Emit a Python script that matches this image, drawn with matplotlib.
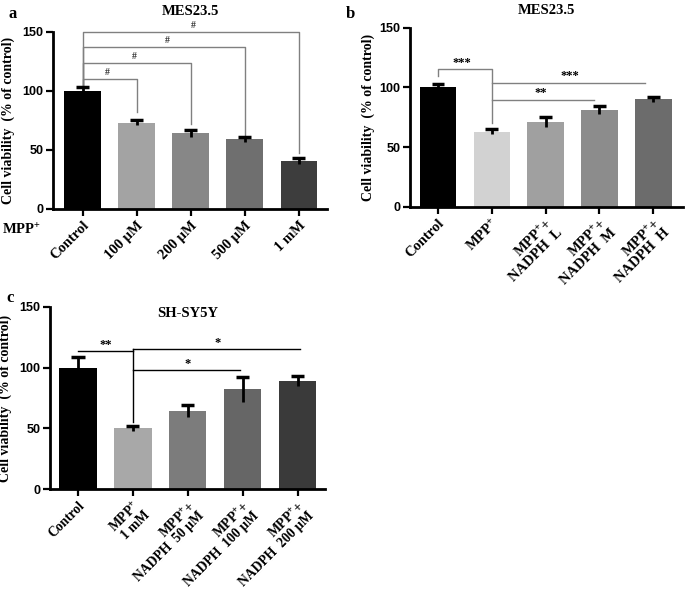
import numpy as np
import matplotlib
matplotlib.use("Agg")
import matplotlib.pyplot as plt

plt.rcParams["font.family"] = ["Liberation Serif", "DejaVu Serif"]
plt.rcParams["font.weight"] = "bold"
plt.rcParams["axes.labelweight"] = "bold"
plt.rcParams["axes.titleweight"] = "bold"
plt.rcParams["mathtext.fontset"] = "custom"
plt.rcParams["mathtext.rm"] = "Liberation Serif:bold"
plt.rcParams["mathtext.it"] = "Liberation Serif:bold"
plt.rcParams["mathtext.bf"] = "Liberation Serif:bold"

# panel a: MES23.5, MPP+ dose
a_labels = ["Control", "100 µM", "200 µM", "500 µM", "1 mM"]
a_vals = [100, 73, 64, 59, 41]
a_err = [3, 2, 3, 2, 2.5]
a_colors = ["#000000", "#a3a3a3", "#878787", "#6f6f6f", "#3d3d3d"]

# panel b: MES23.5, NADPH
b_labels = ["Control", "MPP$^{+}$", "MPP$^{+}$+\nNADPH  L", "MPP$^{+}$+\nNADPH  M", "MPP$^{+}$+\nNADPH  H"]
b_vals = [100, 63, 71, 81, 90]
b_err = [3, 2, 4, 3, 2]
b_colors = ["#000000", "#d2d2d2", "#a0a0a0", "#8c8c8c", "#6c6c6c"]

# panel c: SH-SY5Y
c_labels = ["Control", "MPP$^{+}$\n1 mM", "MPP$^{+}$+\nNADPH  50 µM", "MPP$^{+}$+\nNADPH  100 µM", "MPP$^{+}$+\nNADPH  200 µM"]
c_vals = [100, 50, 64, 82, 89]
c_err = [9, 2, 5, 10, 4]
c_colors = ["#000000", "#a8a8a8", "#7c7c7c", "#666666", "#3a3a3a"]


def draw_panel(ax, labels, vals, err, colors, xlim, labelpad, fs=10.5):
    x = np.arange(len(vals))
    vals = np.array(vals, dtype=float)
    err = np.array(err, dtype=float)
    ax.bar(x, vals, width=0.68, color=colors, edgecolor="none", zorder=2)
    # stem through the mean, cap only on the upper end
    ax.vlines(x, vals - err, vals + err, color="black", lw=2, zorder=3)
    ax.hlines(vals + err, x - 0.12, x + 0.12, color="black", lw=2.5, zorder=3)
    ax.set_xlim(*xlim)
    ax.set_ylim(0, 150)
    ax.set_yticks([0, 50, 100, 150])
    for s in ["top", "right"]:
        ax.spines[s].set_visible(False)
    for s in ["left", "bottom"]:
        ax.spines[s].set_linewidth(2)
    ax.tick_params(axis="both", width=1.6, length=5, direction="out", pad=2)
    ax.set_xticks(x)
    ax.set_xticklabels(labels, rotation=45, ha="right", rotation_mode="anchor",
                       fontsize=fs, multialignment="right", linespacing=0.9)
    for t in ax.get_yticklabels():
        t.set_family("Liberation Sans")
        t.set_fontsize(9)
        t.set_weight("bold")
    ax.set_ylabel("Cell viability  (% of control)", fontsize=10, labelpad=labelpad)


fig = plt.figure(figsize=(6.85, 5.9), dpi=100)

ax_a = fig.add_axes([0.0774, 0.6458, 0.400, 0.300])
draw_panel(ax_a, a_labels, a_vals, a_err, a_colors, (-0.55, 4.52), 5)
ax_a.set_title("MES23.5", fontsize=10.5, pad=12)
gray = "#808080"
# brackets: Control vs each dose
a_top = [110, 124, 137.5, 150]
a_end = [82, 72, 60, 47.5]
a_hash_x = [0.46, 0.96, 1.57, 2.04]
for i, (h, e, hx) in enumerate(zip(a_top, a_end, a_hash_x)):
    ax_a.plot([0, 0, i + 1, i + 1], [105, h, h, e], color=gray, lw=1, clip_on=False)
    ax_a.text(hx, h + 1.5, "#", fontsize=7, ha="center", va="bottom", color="#333333")

ax_b = fig.add_axes([0.5985, 0.6497, 0.3985, 0.3033])
draw_panel(ax_b, b_labels, b_vals, b_err, b_colors, (-0.52, 4.55), 3)
ax_b.set_title("MES23.5", fontsize=10.5, pad=10)
ax_b.plot([0, 0, 1, 1], [109.5, 115, 115, 70], color=gray, lw=1)
ax_b.plot([1, 3.85], [104, 104], color=gray, lw=1)
ax_b.plot([1, 2.9], [89.5, 89.5], color=gray, lw=1)
ax_b.text(0.45, 115.5, "***", fontsize=9, ha="center", va="bottom")
ax_b.text(2.45, 104.5, "***", fontsize=9, ha="center", va="bottom")
ax_b.text(1.9, 90, "**", fontsize=9, ha="center", va="bottom")

ax_c = fig.add_axes([0.073, 0.1707, 0.4015, 0.3095])
draw_panel(ax_c, c_labels, c_vals, c_err, c_colors, (-0.51, 4.5), 5, fs=9.8)
ax_c.text(0.5, 0.96, "SH-SY5Y", transform=ax_c.transAxes, fontsize=10.5,
          ha="center", va="center")
ax_c.plot([0, 1], [113.5, 113.5], color="black", lw=1)
ax_c.plot([1, 1], [115, 55], color="black", lw=1)
ax_c.plot([1, 4.05], [115, 115], color="black", lw=1)
ax_c.plot([1, 2.95], [98, 98], color="black", lw=1)
ax_c.text(0.5, 113.5, "**", fontsize=9, ha="center", va="bottom")
ax_c.text(2.54, 115, "*", fontsize=9, ha="center", va="bottom")
ax_c.text(2.0, 98, "*", fontsize=9, ha="center", va="bottom")

fig.text(0.012, 0.99, "a", fontsize=12, va="top")
fig.text(0.505, 0.99, "b", fontsize=12, va="top")
fig.text(0.010, 0.508, "c", fontsize=12, va="top")
fig.text(0.003, 0.610, "MPP$^{+}$", fontsize=10.5, va="center")

fig.savefig("out.png", dpi=100)
